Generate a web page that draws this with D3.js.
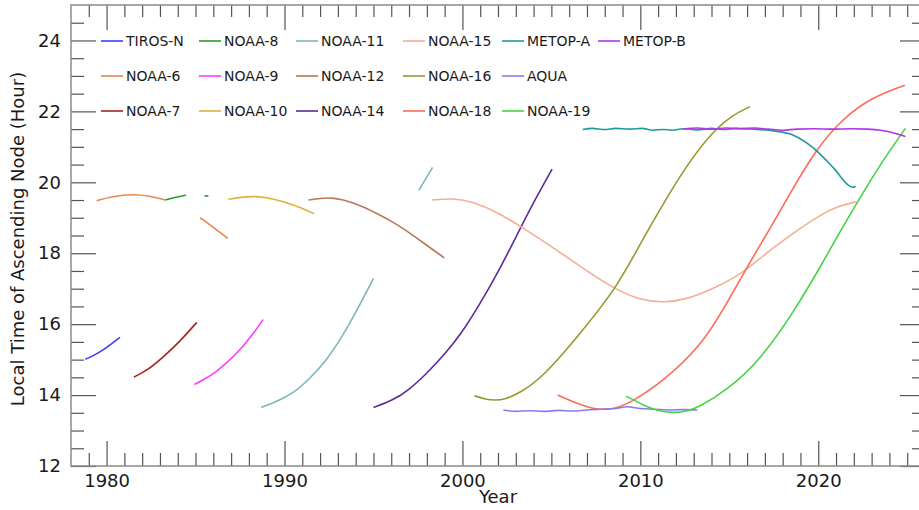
<!DOCTYPE html>
<html lang="en">
  <head>
    <meta charset="UTF-8" />
    <title>Local Time of Ascending Node</title>
    <style>
      body { margin: 0; background: #fff; }
      text { font-family: "DejaVu Sans", sans-serif; fill: #1a1a1a; }
    </style>
  </head>
  <body>
    <script src="https://d3js.org/d3.v7.min.js"></script>
    <script>
      // satellite tracks: [year, local hour]; null splits a track into pieces
      const tirosN = [[1978.8, 15.01], [1979.3, 15.12], [1979.8, 15.27], [1980.3, 15.45], [1980.75, 15.63]];
      const noaa6 = [[1979.44, 19.48], [1980.3, 19.6], [1981.5, 19.67], [1982.4, 19.62], [1983.29, 19.5], null,
        [1985.26, 19.0], [1986.0, 18.73], [1986.81, 18.42]];
      const noaa7 = [[1981.54, 14.51], [1982.3, 14.7], [1983.2, 15.08], [1984.1, 15.5], [1985.07, 16.05]];
      const noaa8 = [[1983.29, 19.5], [1983.9, 19.58], [1984.47, 19.64], null, [1985.5, 19.62], [1985.72, 19.61]];
      const noaa9 = [[1984.94, 14.3], [1985.5, 14.45], [1986.1, 14.63], [1986.8, 14.93], [1987.5, 15.27],
        [1988.2, 15.7], [1988.8, 16.13]];
      const noaa10 = [[1986.85, 19.52], [1987.5, 19.58], [1988.35, 19.61], [1989.3, 19.55], [1990.5, 19.37], [1991.67, 19.11]];
      const noaa11 = [[1988.69, 13.65], [1989.5, 13.8], [1990.5, 14.05], [1991.4, 14.45], [1992.38, 14.99],
        [1993.2, 15.62], [1993.88, 16.21], [1995.0, 17.29], null, [1997.55, 19.77], [1998.32, 20.42]];
      const noaa12 = [[1991.35, 19.5], [1992.0, 19.55], [1992.75, 19.57], [1993.8, 19.45], [1995.2, 19.13],
        [1996.2, 18.85], [1997.07, 18.56], [1998.0, 18.22], [1998.98, 17.87]];
      const noaa14 = [[1995.0, 13.65], [1996.13, 13.86], [1997.0, 14.15], [1998.0, 14.61], [1999.0, 15.15],
        [1999.88, 15.69], [2000.9, 16.5], [2002.0, 17.45], [2003.3, 18.75], [2004.2, 19.62], [2005.04, 20.37]];
      const noaa15 = [[1998.3, 19.5], [1999.4, 19.55], [2000.5, 19.47], [2002.0, 19.15], [2003.3, 18.75],
        [2005.3, 18.09], [2007.0, 17.5], [2008.6, 16.98], [2010.0, 16.68], [2011.3, 16.6], [2012.6, 16.7],
        [2013.94, 16.96], [2015.68, 17.4], [2017.0, 17.98], [2018.58, 18.56], [2020.0, 19.05], [2021.2, 19.35],
        [2022.16, 19.45]];
      const noaa16 = [[2000.67, 13.98], [2001.3, 13.88], [2001.85, 13.85], [2002.4, 13.88], [2003.2, 14.05],
        [2004.56, 14.52], [2006.63, 15.74], [2008.6, 16.98], [2009.8, 18.09], [2011.43, 19.53], [2012.9, 20.7],
        [2014.23, 21.51], [2015.2, 21.9], [2016.15, 22.13]];
      const noaa18 = [[2005.35, 14.0], [2006.5, 13.75], [2007.3, 13.62], [2007.94, 13.59], [2008.6, 13.62],
        [2009.5, 13.8], [2011.13, 14.33], [2013.38, 15.35], [2014.88, 16.6], [2016.19, 17.78], [2017.3, 18.7],
        [2018.6, 19.85], [2019.84, 20.89], [2021.28, 21.76], [2023.0, 22.4], [2024.87, 22.74]];
      const noaa19 = [[2009.2, 13.97], [2010.5, 13.63], [2011.2, 13.53], [2011.88, 13.5], [2012.6, 13.54],
        [2013.3, 13.66], [2014.88, 14.14], [2016.75, 14.99], [2018.63, 16.35], [2020.1, 17.6], [2021.1, 18.5],
        [2022.16, 19.41], [2023.6, 20.6], [2024.9, 21.52]];
      const metopA = [[2006.76, 21.49], [2007.3, 21.52], [2008.0, 21.49], [2008.6, 21.52], [2009.4, 21.5],
        [2010.1, 21.52], [2010.7, 21.47], [2011.3, 21.49], [2011.8, 21.47], [2012.4, 21.51], [2013.2, 21.48],
        [2014.0, 21.52], [2014.7, 21.49], [2015.4, 21.52], [2016.3, 21.5], [2017.5, 21.45], [2018.6, 21.33],
        [2019.75, 20.96], [2020.87, 20.4], [2021.75, 19.9], [2021.95, 19.86], [2022.1, 19.89]];
      const metopB = [[2012.4, 21.5], [2013.2, 21.53], [2014.0, 21.5], [2014.8, 21.53], [2015.6, 21.51],
        [2016.4, 21.53], [2017.2, 21.5], [2018.0, 21.47], [2018.8, 21.5], [2019.8, 21.51], [2020.8, 21.5],
        [2021.8, 21.51], [2022.8, 21.5], [2023.5, 21.47], [2024.2, 21.4], [2024.9, 21.29]];
      const aqua = [[2002.3, 13.58], [2003.0, 13.54], [2003.8, 13.56], [2004.6, 13.54], [2005.4, 13.57],
        [2006.2, 13.55], [2007.0, 13.58], [2007.8, 13.6], [2008.6, 13.62], [2009.25, 13.67], [2010.0, 13.62],
        [2010.8, 13.6], [2011.6, 13.58], [2012.4, 13.59], [2013.2, 13.58]];

      // wiggly: tracks whose small jitter should be kept (not smoothed)
      const satellites = [
        { name: "TIROS-N", color: "#3c3cff", track: tirosN },
        { name: "NOAA-6", color: "#e8884a", track: noaa6 },
        { name: "NOAA-7", color: "#a52222", track: noaa7 },
        { name: "NOAA-8", color: "#28a028", track: noaa8 },
        { name: "NOAA-9", color: "#ff3cff", track: noaa9 },
        { name: "NOAA-10", color: "#e0b040", track: noaa10 },
        { name: "NOAA-11", color: "#80b6b8", track: noaa11 },
        { name: "NOAA-12", color: "#b87858", track: noaa12 },
        { name: "NOAA-14", color: "#5c2a9c", track: noaa14 },
        { name: "NOAA-15", color: "#f5ae96", track: noaa15 },
        { name: "NOAA-16", color: "#989830", track: noaa16 },
        { name: "NOAA-18", color: "#ff6a55", track: noaa18 },
        { name: "METOP-A", color: "#229898", track: metopA, wiggly: true },
        { name: "AQUA", color: "#8a7aee", track: aqua, wiggly: true },
        { name: "NOAA-19", color: "#46d446", track: noaa19 },
        { name: "METOP-B", color: "#b236e8", track: metopB, wiggly: true },
      ];
      // column-major legend order (3 rows)
      const legendOrder = ["TIROS-N", "NOAA-6", "NOAA-7", "NOAA-8", "NOAA-9", "NOAA-10", "NOAA-11", "NOAA-12",
        "NOAA-14", "NOAA-15", "NOAA-16", "NOAA-18", "METOP-A", "AQUA", "NOAA-19", "METOP-B"];
      const yearTicks = [1980, 1990, 2000, 2010, 2020];
      const hourTicks = [12, 14, 16, 18, 20, 22, 24];

      const width = 919;
      const height = 510;
      const plot = { left: 71, right: 925, top: 5, bottom: 466 };

      const svg = d3.select("body").append("svg").attr("width", width).attr("height", height);

      const x = d3.scaleLinear().domain([1978, 2026]).range([plot.left, plot.right]);
      const y = d3.scaleLinear().domain([12, 25]).range([plot.bottom, plot.top]);

      const minorYears = d3.range(1979, 2026).filter((d) => !yearTicks.includes(d));
      const minorHours = d3.range(12.5, 25, 0.5).filter((d) => !hourTicks.includes(d));

      function styleAxis(g) {
        g.selectAll(".domain").remove();
        g.selectAll(".tick line").attr("stroke", "#555").attr("stroke-width", 1.2);
        g.selectAll("text").attr("font-size", 18).attr("fill", "#1a1a1a");
      }

      svg.append("g").attr("transform", `translate(0,${plot.bottom})`)
        .call(d3.axisBottom(x).tickValues(yearTicks).tickSize(-25).tickPadding(8).tickFormat(d3.format("d")))
        .call(styleAxis);
      svg.append("g").attr("transform", `translate(0,${plot.bottom})`)
        .call(d3.axisBottom(x).tickValues(minorYears).tickSize(-13).tickFormat(""))
        .call(styleAxis);
      svg.append("g").attr("transform", `translate(0,${plot.top})`)
        .call(d3.axisTop(x).tickValues(yearTicks).tickSize(-25).tickFormat(""))
        .call(styleAxis);
      svg.append("g").attr("transform", `translate(0,${plot.top})`)
        .call(d3.axisTop(x).tickValues(minorYears).tickSize(-12).tickFormat(""))
        .call(styleAxis);

      svg.append("g").attr("transform", `translate(${plot.left},0)`)
        .call(d3.axisLeft(y).tickValues(hourTicks).tickSize(-25).tickPadding(10))
        .call(styleAxis);
      svg.append("g").attr("transform", `translate(${plot.left},0)`)
        .call(d3.axisLeft(y).tickValues(minorHours).tickSize(-13).tickFormat(""))
        .call(styleAxis);
      svg.append("g").attr("transform", `translate(${plot.right},0)`)
        .call(d3.axisRight(y).tickValues(hourTicks).tickSize(-25).tickFormat(""))
        .call(styleAxis);
      svg.append("g").attr("transform", `translate(${plot.right},0)`)
        .call(d3.axisRight(y).tickValues(minorHours).tickSize(-13).tickFormat(""))
        .call(styleAxis);

      // frame
      svg.append("rect")
        .attr("x", plot.left).attr("y", plot.top)
        .attr("width", plot.right - plot.left).attr("height", plot.bottom - plot.top)
        .attr("fill", "none").attr("stroke", "#8a8a8a").attr("stroke-width", 1.5);

      const smoothLine = d3.line()
        .defined((d) => d !== null)
        .x((d) => x(d[0]))
        .y((d) => y(d[1]))
        .curve(d3.curveBasis);
      const wigglyLine = d3.line()
        .defined((d) => d !== null)
        .x((d) => x(d[0]))
        .y((d) => y(d[1]))
        .curve(d3.curveMonotoneX);

      svg.append("g")
        .selectAll("path")
        .data(satellites)
        .join("path")
        .attr("fill", "none")
        .attr("stroke", (d) => d.color)
        .attr("stroke-width", 1.6)
        .attr("d", (d) => (d.wiggly ? wigglyLine : smoothLine)(d.track));

      // legend
      const legendCols = [101, 199, 296, 403, 502, 598];
      const legendRows = [41, 76, 111];
      const byName = new Map(satellites.map((s) => [s.name, s]));
      const legend = svg.append("g")
        .selectAll("g")
        .data(legendOrder)
        .join("g")
        .attr("transform", (d, i) => `translate(${legendCols[Math.floor(i / 3)]},${legendRows[i % 3]})`);
      legend.append("line")
        .attr("x1", 0).attr("x2", 22)
        .attr("stroke", (d) => byName.get(d).color)
        .attr("stroke-width", 1.6);
      legend.append("text")
        .attr("x", 25).attr("dy", "0.36em")
        .attr("font-size", 14)
        .text((d) => d);

      svg.append("text")
        .attr("x", (plot.left + plot.right) / 2)
        .attr("y", 503)
        .attr("text-anchor", "middle")
        .attr("font-size", 18)
        .text("Year");

      svg.append("text")
        .attr("transform", `translate(24,239) rotate(-90)`)
        .attr("text-anchor", "middle")
        .attr("font-size", 18)
        .text("Local Time of Ascending Node (Hour)");
    </script>
  </body>
</html>
